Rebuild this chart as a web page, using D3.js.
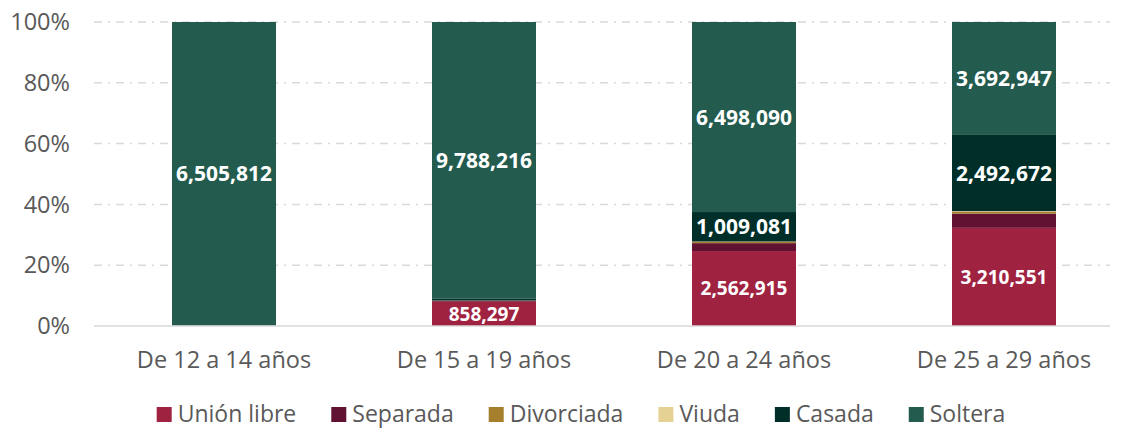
<!DOCTYPE html>
<html>
<head>
<meta charset="utf-8">
<script src="https://cdn.jsdelivr.net/npm/d3@7"></script>
<style>
  body { margin: 0; background: #fff; }
  svg { font-family: "Open Sans", sans-serif; }
</style>
</head>
<body>
<svg width="1122" height="428"></svg>
<script>
var groups = ["De 12 a 14 años", "De 15 a 19 años", "De 20 a 24 años", "De 25 a 29 años"];
var seriesNames = ["Unión libre", "Separada", "Divorciada", "Viuda", "Casada", "Soltera"];
var colors = ["#9f2241", "#611232", "#a57f2c", "#e6d194", "#002f2a", "#235b4e"];

// values per series, one entry per age group
var unionLibre = [4000, 858297, 2562915, 3210551];
var separada   = [1000, 40000, 270000, 460000];
var divorciada = [200, 3000, 40000, 60000];
var viuda      = [200, 2000, 15000, 25000];
var casada     = [3000, 60000, 1009081, 2492672];
var soltera    = [6505812, 9788216, 6498090, 3692947];

var yTicks = [0, 0.2, 0.4, 0.6, 0.8, 1];

var allSeries = [unionLibre, separada, divorciada, viuda, casada, soltera];

var rows = groups.map(function (g, i) {
  var row = { group: g };
  seriesNames.forEach(function (s, j) { row[s] = allSeries[j][i]; });
  return row;
});

var svg = d3.select("svg");

var x = d3.scaleBand().domain(groups).range([94, 1134]).paddingInner(0.6).paddingOuter(0.3);
var y = d3.scaleLinear().domain([0, 1]).range([326, 22]);

// grid
svg.append("g").selectAll("line")
  .data(yTicks.filter(function (d) { return d > 0; }))
  .enter().append("line")
  .attr("x1", 94).attr("x2", 1110)
  .attr("y1", function (d) { return y(d); })
  .attr("y2", function (d) { return y(d); })
  .attr("stroke", "#d9d9d9")
  .attr("stroke-width", 1.5)
  .attr("stroke-dasharray", "8,6,2,6");

// y labels
svg.append("g").selectAll("text")
  .data(yTicks)
  .enter().append("text")
  .attr("x", 70)
  .attr("y", function (d) { return y(d); })
  .attr("dy", "0.35em")
  .attr("text-anchor", "end")
  .attr("font-size", 23.5)
  .attr("fill", "#595959")
  .text(function (d) { return Math.round(d * 100) + "%"; });

var stack = d3.stack().keys(seriesNames).offset(d3.stackOffsetExpand);
var stacked = stack(rows);

var layers = svg.append("g").selectAll("g")
  .data(stacked)
  .enter().append("g")
  .attr("fill", function (d, i) { return colors[i]; });

layers.selectAll("rect")
  .data(function (d) { return d; })
  .enter().append("rect")
  .attr("x", function (d) { return x(d.data.group); })
  .attr("width", x.bandwidth())
  .attr("y", function (d) { return y(d[1]); })
  .attr("height", function (d) { return Math.max(0, y(d[0]) - y(d[1])); });

// baseline
svg.append("line")
  .attr("x1", 94).attr("x2", 1110)
  .attr("y1", y(0)).attr("y2", y(0))
  .attr("stroke", "#d9d9d9").attr("stroke-width", 1.5);

// value labels
var fmt = d3.format(",");
stacked.forEach(function (layer, i) {
  layer.forEach(function (d) {
    var h = y(d[0]) - y(d[1]);
    if (h < 20) return;
    svg.append("text")
      .attr("x", x(d.data.group) + x.bandwidth() / 2)
      .attr("y", (y(d[0]) + y(d[1])) / 2)
      .attr("dy", "0.36em")
      .attr("text-anchor", "middle")
      .attr("font-weight", "bold")
      .attr("font-size", i === 0 ? 19 : 21)
      .attr("fill", "#fff")
      .text(fmt(d.data[layer.key]));
  });
});

// x labels
svg.append("g").selectAll("text")
  .data(groups)
  .enter().append("text")
  .attr("x", function (d) { return x(d) + x.bandwidth() / 2; })
  .attr("y", 360)
  .attr("dy", "0.35em")
  .attr("text-anchor", "middle")
  .attr("font-size", 23.5)
  .attr("fill", "#595959")
  .text(function (d) { return d; });

// legend
var legend = svg.append("g");
var lx = 0;
seriesNames.forEach(function (s, i) {
  var item = legend.append("g").attr("transform", "translate(" + lx + ",0)");
  item.append("rect").attr("x", 0).attr("y", -7).attr("width", 15).attr("height", 15).attr("fill", colors[i]);
  var t = item.append("text").attr("x", 21).attr("dy", "0.35em")
    .attr("font-size", 23).attr("fill", "#595959").text(s);
  lx += 21 + t.node().getComputedTextLength() + 35;
});
lx -= 35;
legend.attr("transform", "translate(" + (581 - lx / 2) + ",414)");
</script>
</body>
</html>
